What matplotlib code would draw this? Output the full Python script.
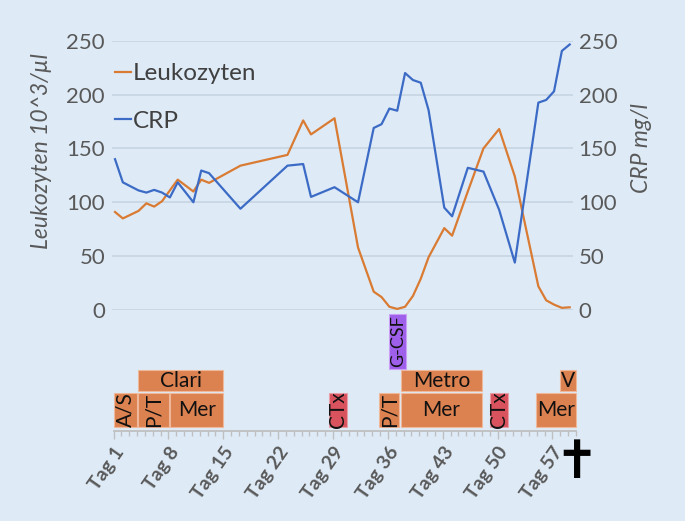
import matplotlib
matplotlib.use("Agg")
import matplotlib.pyplot as plt
from matplotlib.patches import Rectangle

plt.rcParams['font.family'] = ['Lato', 'DejaVu Sans']

# ---- data ----
leuko_days = [1, 2, 4, 5, 6, 7, 9, 11, 12, 13, 17, 23, 25, 26, 29, 32, 34, 35, 36, 37,
              38, 39, 40, 41, 43, 44, 46, 48, 50, 52, 55, 56, 57, 58, 59]
leuko_vals = [91, 85, 92, 99, 96, 101, 121, 110, 121, 118, 134, 144, 176, 163, 178, 58, 17, 12, 3, 1,
              3, 13, 29, 49, 76, 69, 110, 150, 168, 124, 22, 9, 5, 2, 2.5]

crp_days = [1, 2, 4, 5, 6, 7, 8, 9, 11, 12, 13, 17, 23, 25, 26, 29, 32, 34, 35, 36,
            37, 38, 39, 40, 41, 43, 44, 46, 48, 50, 52, 55, 56, 57, 58, 59]
crp_vals = [140, 118.5, 111, 109, 111.5, 109, 104.5, 118.5, 100, 129.5, 127, 94, 134, 135.5, 105, 114, 100, 169, 172.5, 187,
            185, 220, 213.5, 211, 185.5, 95, 87, 132, 128.5, 93, 44, 192.5, 195, 203, 240.5, 246.5]

y_ticks = [0, 50, 100, 150, 200, 250]
tag_days = [1, 8, 15, 22, 29, 36, 43, 50, 57]
tag_labels = ["Tag %d" % d for d in tag_days]

# therapy boxes: label, start day, end day, row, kind
therapy_labels = ["A/S", "P/T", "Mer", "Clari", "CTx", "P/T", "Mer", "Metro", "G-CSF", "CTx", "Mer", "V"]
therapy_start = [1.0, 4.15, 8.2, 4.15, 28.55, 34.9, 37.7, 37.7, 36.2, 49.05, 54.9, 57.9]
therapy_end = [4.05, 8.05, 15.0, 15.0, 30.8, 37.45, 48.0, 48.0, 38.35, 51.3, 60.0, 60.0]
therapy_row = [0, 0, 0, 1, 0, 0, 0, 1, 2, 0, 0, 1]
therapy_kind = ["ab", "ab", "ab", "ab", "ctx", "ab", "ab", "ab", "gcsf", "ctx", "ab", "ab"]
therapy_vertical = [True, True, False, False, True, True, False, False, True, True, False, False]

# ---- style ----
BG = "#DEEBF7"
GRID = "#C8D5E3"
ORANGE = "#D97B33"
BLUE = "#3C6BC6"
TXT = "#595959"
kind_color = {"ab": "#DC8150", "ctx": "#D9535F", "gcsf": "#9E5FEA"}
kind_edge = {"ab": "#F0B89A", "ctx": "#E8A0A8", "gcsf": "#C9A0F5"}
rows = [(0.028, 0.315), (0.329, 0.50), (0.511, 0.967)]

W, H = 685, 521
fig = plt.figure(figsize=(W / 100, H / 100), dpi=100, facecolor=BG)

# top chart
ax = fig.add_axes([112 / W, (H - 310) / H, 461 / W, 269.3 / H])
ax.set_facecolor(BG)
ax.set_xlim(0.617, 59.42)
ax.set_ylim(0, 250)
ax.set_yticks(y_ticks)
ax.yaxis.grid(True, color=GRID, linewidth=1.3)
ax.set_axisbelow(True)
for s in ax.spines.values():
    s.set_visible(False)
ax.tick_params(axis='y', length=0, pad=5, labelsize=16, labelcolor=TXT)
ax.set_xticks([])
l1, = ax.plot(leuko_days, leuko_vals, color=ORANGE, linewidth=1.6, clip_on=False, label="Leukozyten")
l2, = ax.plot(crp_days, crp_vals, color=BLUE, linewidth=1.6, clip_on=False, label="CRP")

ax_r = ax.twinx()
ax_r.set_ylim(0, 250)
ax_r.set_yticks(y_ticks)
for s in ax_r.spines.values():
    s.set_visible(False)
ax_r.tick_params(axis='y', length=0, pad=4, labelsize=16, labelcolor=TXT)

fig.text(42 / W, 1 - 151 / H, "Leukozyten 10^3/µl", rotation=90, ha='center', va='center',
         fontsize=16.5, style='italic', color=TXT)
fig.text(642 / W, 1 - 148 / H, "CRP mg/l", rotation=90, ha='center', va='center',
         fontsize=16.5, style='italic', color=TXT)

leg = ax.legend(handles=[l1, l2], loc='upper left', bbox_to_anchor=(115 / W, 1 - 63 / H),
                bbox_transform=fig.transFigure, frameon=False, fontsize=17.5,
                handlelength=0.65, handletextpad=0.1, labelspacing=1.1, borderpad=0, borderaxespad=0)
for t in leg.get_texts():
    t.set_color("#404040")

# bottom therapy axis
bx = fig.add_axes([113.5 / W, (H - 430.7) / H, 462.5 / W, 120.7 / H])
bx.set_facecolor("none")
bx.set_xlim(1, 60)
bx.set_ylim(0, 1)
for k in ['top', 'left', 'right']:
    bx.spines[k].set_visible(False)
bx.spines['bottom'].set_color("#BFBFBF")
bx.spines['bottom'].set_linewidth(1.3)
bx.set_yticks([])
bx.set_xticks(tag_days)
bx.set_xticks(range(1, 61), minor=True)
bx.set_xticklabels(tag_labels, rotation=55, ha='right', va='top', rotation_mode='anchor',
                   fontsize=14, fontweight='bold', color=TXT)
bx.tick_params(axis='x', which='major', length=5.5, width=1, color="#BFBFBF", pad=4)
bx.tick_params(axis='x', which='minor', length=3.5, width=1, color="#BFBFBF")

for lab, s, e, r, kd, vert in zip(therapy_labels, therapy_start, therapy_end, therapy_row,
                                  therapy_kind, therapy_vertical):
    y0, y1 = rows[r]
    bx.add_patch(Rectangle((s, y0), e - s, y1 - y0, facecolor=kind_color[kd],
                           edgecolor=kind_edge[kd], linewidth=0.8, clip_on=False))
    fs = 13 if kd == "gcsf" else 15
    bx.text((s + e) / 2, (y0 + y1) / 2, lab, rotation=90 if vert else 0, ha='center', va='center',
            fontsize=fs, color="#111111", clip_on=False)

fig.text(576 / W, 1 - 463 / H, "\u271D", ha='center', va='center', fontsize=38,
         family='DejaVu Sans', color='black')

fig.savefig("out.png", dpi=100, facecolor=BG)
